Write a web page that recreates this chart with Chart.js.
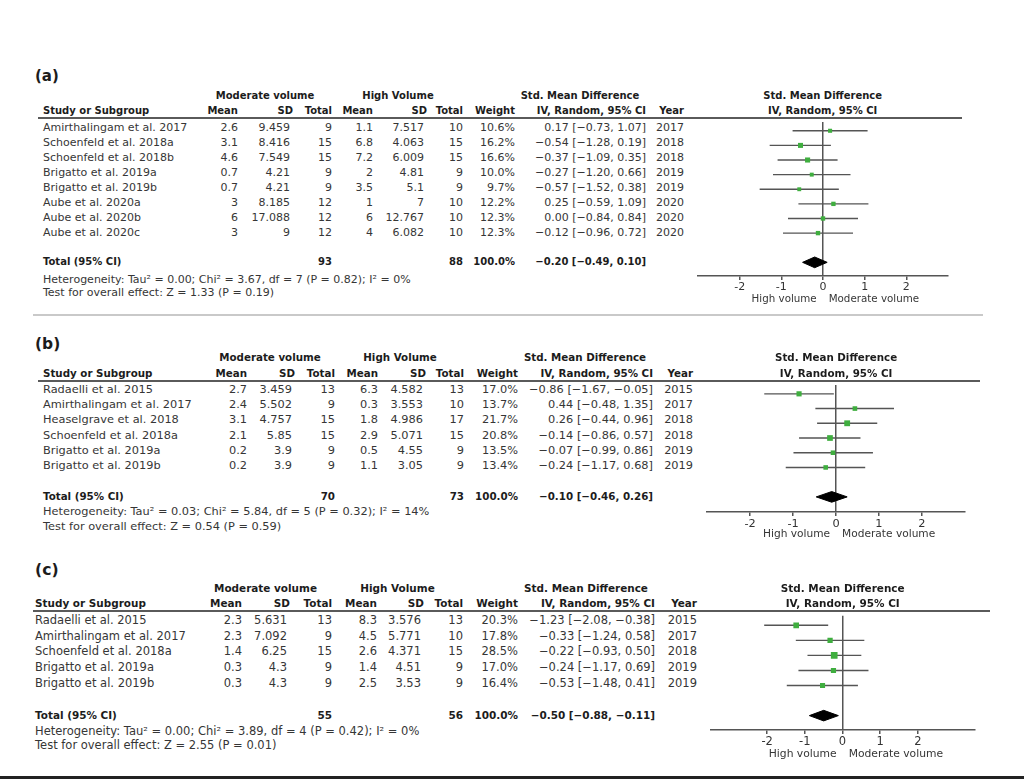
<!DOCTYPE html>
<html>
<head>
<meta charset="utf-8">
<script src="https://cdn.jsdelivr.net/npm/chart.js@4.4.1/dist/chart.umd.min.js"></script>
<style>
  body { margin: 0; background: #fff; }
  #page { position: relative; width: 1024px; height: 780px; overflow: hidden; font-family: "DejaVu Sans", sans-serif; color: #363636; }
  .t { position: absolute; white-space: nowrap; line-height: 1; }
  .b { font-weight: bold; color: #1c1c1c; }
  .rule { position: absolute; }
  canvas { position: absolute; }
</style>
</head>
<body>
<div id="page"></div>
<script>
    // ---- (a) ----
    const studiesA = ['Amirthalingam et al. 2017', 'Schoenfeld et al. 2018a', 'Schoenfeld et al. 2018b', 'Brigatto et al. 2019a', 'Brigatto et al. 2019b', 'Aube et al. 2020a', 'Aube et al. 2020b', 'Aube et al. 2020c'];
    const modMeanA = [2.6, 3.1, 4.6, 0.7, 0.7, 3, 6, 3];
    const modSdA = [9.459, 8.416, 7.549, 4.21, 4.21, 8.185, 17.088, 9];
    const modNA = [9, 15, 15, 9, 9, 12, 12, 12];
    const highMeanA = [1.1, 6.8, 7.2, 2, 3.5, 1, 6, 4];
    const highSdA = [7.517, 4.063, 6.009, 4.81, 5.1, 7, 12.767, 6.082];
    const highNA = [10, 15, 15, 9, 9, 10, 10, 10];
    const weightA = [10.6, 16.2, 16.6, 10.0, 9.7, 12.2, 12.3, 12.3];
    const smdA = [0.17, -0.54, -0.37, -0.27, -0.57, 0.25, 0.00, -0.12];
    const loA = [-0.73, -1.28, -1.09, -1.20, -1.52, -0.59, -0.84, -0.96];
    const hiA = [1.07, 0.19, 0.35, 0.66, 0.38, 1.09, 0.84, 0.72];
    const yearA = [2017, 2018, 2018, 2019, 2019, 2020, 2020, 2020];
    const totalNA = [93, 88];
    const totalA = [-0.20, -0.49, 0.10];
    const hetA = 'Heterogeneity: Tau² = 0.00; Chi² = 3.67, df = 7 (P = 0.82); I² = 0%';
    const testA = 'Test for overall effect: Z = 1.33 (P = 0.19)';

    // ---- (b) ----
    const studiesB = ['Radaelli et al. 2015', 'Amirthalingam et al. 2017', 'Heaselgrave et al. 2018', 'Schoenfeld et al. 2018a', 'Brigatto et al. 2019a', 'Brigatto et al. 2019b'];
    const modMeanB = [2.7, 2.4, 3.1, 2.1, 0.2, 0.2];
    const modSdB = [3.459, 5.502, 4.757, 5.85, 3.9, 3.9];
    const modNB = [13, 9, 15, 15, 9, 9];
    const highMeanB = [6.3, 0.3, 1.8, 2.9, 0.5, 1.1];
    const highSdB = [4.582, 3.553, 4.986, 5.071, 4.55, 3.05];
    const highNB = [13, 10, 17, 15, 9, 9];
    const weightB = [17.0, 13.7, 21.7, 20.8, 13.5, 13.4];
    const smdB = [-0.86, 0.44, 0.26, -0.14, -0.07, -0.24];
    const loB = [-1.67, -0.48, -0.44, -0.86, -0.99, -1.17];
    const hiB = [-0.05, 1.35, 0.96, 0.57, 0.86, 0.68];
    const yearB = [2015, 2017, 2018, 2018, 2019, 2019];
    const totalNB = [70, 73];
    const totalB = [-0.10, -0.46, 0.26];
    const hetB = 'Heterogeneity: Tau² = 0.03; Chi² = 5.84, df = 5 (P = 0.32); I² = 14%';
    const testB = 'Test for overall effect: Z = 0.54 (P = 0.59)';

    // ---- (c) ----
    const studiesC = ['Radaelli et al. 2015', 'Amirthalingam et al. 2017', 'Schoenfeld et al. 2018a', 'Brigatto et al. 2019a', 'Brigatto et al. 2019b'];
    const modMeanC = [2.3, 2.3, 1.4, 0.3, 0.3];
    const modSdC = [5.631, 7.092, 6.25, 4.3, 4.3];
    const modNC = [13, 9, 15, 9, 9];
    const highMeanC = [8.3, 4.5, 2.6, 1.4, 2.5];
    const highSdC = [3.576, 5.771, 4.371, 4.51, 3.53];
    const highNC = [13, 10, 15, 9, 9];
    const weightC = [20.3, 17.8, 28.5, 17.0, 16.4];
    const smdC = [-1.23, -0.33, -0.22, -0.24, -0.53];
    const loC = [-2.08, -1.24, -0.93, -1.17, -1.48];
    const hiC = [-0.38, 0.58, 0.50, 0.69, 0.41];
    const yearC = [2015, 2017, 2018, 2019, 2019];
    const totalNC = [55, 56];
    const totalC = [-0.50, -0.88, -0.11];
    const hetC = 'Heterogeneity: Tau² = 0.00; Chi² = 3.89, df = 4 (P = 0.42); I² = 0%';
    const testC = 'Test for overall effect: Z = 2.55 (P = 0.01)';

    const tickVals = [-2, -1, 0, 1, 2];

    // page layout of each panel (pixels)
    const layoutA = { label: '(a)', labelY: 76, h1: 96, h2: 111, rule: 118, ruleX: [38, 962], row0: 127, step: 15, totIdx: 9,
        het: 279, test: 292, axis: 276, titleY: 298, zero: 822.7, unit: 43, xr: [-3, 3], nameX: 43,
        cols: [238, 290, 332, 373, 424, 463, 515, 646, 684], mod: 265, high: 398, smd: 580, fs: 11 };
    const layoutB = { label: '(b)', labelY: 345, h1: 357, h2: 373, rule: 381, ruleX: [38, 980], row0: 390, step: 15.2, totIdx: 7,
        het: 512, test: 527, axis: 512, titleY: 534, zero: 836, unit: 44.3, xr: [-3, 3], nameX: 43,
        cols: [247, 292, 335, 378, 423, 464, 518, 653, 693], mod: 270, high: 400, smd: 585, fs: 11.35 };
    const layoutC = { label: '(c)', labelY: 570, h1: 588, h2: 603, rule: 611, ruleX: [33, 990], row0: 621, step: 15.67, totIdx: 6,
        het: 732, test: 746, axis: 730, titleY: 754, zero: 842.7, unit: 39, xr: [-3.5, 3.5], nameX: 35,
        cols: [242, 287, 332, 377, 421, 463, 518, 655, 697], mod: 265.5, high: 397.5, smd: 586, fs: 11.5 };

    const AXIS_H = 19;
    const DIAMOND_PX = 5.5;
    const GREEN = '#3fae3f', LINE = '#555';
    const page = document.getElementById('page');

    function txt(s, x, y, align, size, bold) {
        const el = document.createElement('div');
        el.className = 't' + (bold ? ' b' : '');
        el.textContent = s;
        el.style.left = x + 'px';
        el.style.top = y + 'px';
        el.style.fontSize = size + 'px';
        const tx = align === 'r' ? '-100%' : (align === 'c' ? '-50%' : '0');
        el.style.transform = `translate(${tx}, -50%)`;
        page.appendChild(el);
    }

    function rule(x, y, w, h, color) {
        const el = document.createElement('div');
        el.className = 'rule';
        el.style.cssText = `left:${x}px;top:${y}px;width:${w}px;height:${h}px;background:${color}`;
        page.appendChild(el);
    }

    const f2 = v => v.toFixed(2).replace('-', '−');
    const ciText = (s, l, h) => `${f2(s)} [${f2(l)}, ${f2(h)}]`;

    function drawPanel(p) {
        const L = p.lay, fs = L.fs, bs = fs * 10 / 11, c = L.cols;

        // table
        txt(L.label, 35, L.labelY, 'l', fs * 15 / 11, true);
        txt('Moderate volume', L.mod, L.h1, 'c', bs, true);
        txt('High Volume', L.high, L.h1, 'c', bs, true);
        txt('Std. Mean Difference', L.smd, L.h1, 'c', bs, true);
        txt('Study or Subgroup', L.nameX, L.h2, 'l', bs, true);
        ['Mean', 'SD', 'Total', 'Mean', 'SD', 'Total', 'Weight', 'IV, Random, 95% CI', 'Year'].forEach((h, k) => txt(h, c[k] + (k === 1 || k === 4 ? 3 : 0), L.h2, 'r', bs, true));
        rule(L.ruleX[0], L.rule - 1, L.ruleX[1] - L.ruleX[0], 1.5, '#5a5a5a');

        p.studies.forEach((s, i) => {
            const y = L.row0 + i * L.step;
            txt(s, L.nameX, y, 'l', fs);
            [p.modMean[i], p.modSd[i], p.modN[i], p.highMean[i], p.highSd[i], p.highN[i]].forEach((v, k) => txt(String(v), c[k], y, 'r', fs));
            txt(p.weight[i].toFixed(1) + '%', c[6], y, 'r', fs);
            txt(ciText(p.smd[i], p.lo[i], p.hi[i]), c[7], y, 'r', fs);
            txt(String(p.year[i]), c[8], y, 'r', fs);
        });

        const ty = L.row0 + L.totIdx * L.step;
        txt('Total (95% CI)', L.nameX, ty, 'l', bs, true);
        txt(String(p.totalN[0]), c[2], ty, 'r', bs, true);
        txt(String(p.totalN[1]), c[5], ty, 'r', bs, true);
        txt('100.0%', c[6], ty, 'r', bs, true);
        txt(ciText(p.total[0], p.total[1], p.total[2]), c[7], ty, 'r', bs, true);
        txt(p.het, L.nameX, L.het, 'l', fs);
        txt(p.test, L.nameX, L.test, 'l', fs);

        // forest plot
        const cv = document.createElement('canvas');
        const left = L.zero + L.xr[0] * L.unit, w = Math.round((L.xr[1] - L.xr[0]) * L.unit), h = Math.round(L.axis - L.rule + AXIS_H);
        cv.width = w; cv.height = h;
        cv.style.left = left + 'px'; cv.style.top = L.rule + 'px';
        cv.style.width = w + 'px'; cv.style.height = h + 'px';
        page.appendChild(cv);

        const ci = [];
        p.studies.forEach((_, i) => ci.push({ x: p.lo[i], y: i }, { x: p.hi[i], y: i }, { x: null, y: null }));
        const t = L.totIdx, dh = DIAMOND_PX / L.step, [ts, tl, th] = p.total;
        const diamond = [{ x: tl, y: t }, { x: ts, y: t - dh }, { x: th, y: t }, { x: ts, y: t + dh }, { x: tl, y: t }];

        const chart = new Chart(cv, {
            type: 'scatter',
            data: {
                datasets: [
                    { data: p.studies.map((_, i) => ({ x: p.smd[i], y: i })), pointStyle: 'rect',
                      pointRadius: ctx => Math.sqrt(p.weight[ctx.dataIndex]) * 1.25 / Math.SQRT2,
                      backgroundColor: GREEN, borderWidth: 0, order: 0 },
                    { type: 'line', data: ci, borderColor: LINE, borderWidth: 1.4, pointRadius: 0, spanGaps: false, order: 1 },
                    { type: 'line', data: diamond, borderColor: '#000', backgroundColor: '#000', borderWidth: 1, pointRadius: 0, fill: 'shape', tension: 0, order: 1 }
                ]
            },
            options: {
                responsive: false, animation: false, events: [],
                layout: { padding: 0 },
                plugins: { legend: { display: false }, tooltip: { enabled: false } },
                scales: {
                    x: {
                        type: 'linear', min: L.xr[0], max: L.xr[1],
                        afterBuildTicks: s => { s.ticks = tickVals.map(v => ({ value: v })); },
                        afterFit: s => { s.height = AXIS_H; },
                        grid: { color: ctx => (ctx.tick && ctx.tick.value === 0 ? LINE : 'rgba(0,0,0,0)'), tickColor: LINE, tickLength: 4, lineWidth: 1.5 },
                        border: { color: LINE, width: 1.5 },
                        ticks: { color: '#333', font: { family: 'DejaVu Sans', size: fs }, padding: 1, maxRotation: 0, autoSkip: false }
                    },
                    y: { type: 'linear', reverse: true, display: false,
                         min: (L.rule - L.row0) / L.step, max: (L.axis - L.row0) / L.step }
                }
            }
        });

        const zeroPx = left + chart.scales.x.getPixelForValue(0);
        txt('Std. Mean Difference', zeroPx, L.h1, 'c', bs, true);
        txt('IV, Random, 95% CI', zeroPx, L.h2, 'c', bs, true);
        txt('High volume', zeroPx - 6, L.titleY, 'r', fs * 10.3 / 11);
        txt('Moderate volume', zeroPx + 6, L.titleY, 'l', fs * 10.3 / 11);
    }

    window.onload = () => {
        drawPanel({ lay: layoutA, studies: studiesA, modMean: modMeanA, modSd: modSdA, modN: modNA, highMean: highMeanA, highSd: highSdA, highN: highNA,
                    weight: weightA, smd: smdA, lo: loA, hi: hiA, year: yearA, totalN: totalNA, total: totalA, het: hetA, test: testA });
        drawPanel({ lay: layoutB, studies: studiesB, modMean: modMeanB, modSd: modSdB, modN: modNB, highMean: highMeanB, highSd: highSdB, highN: highNB,
                    weight: weightB, smd: smdB, lo: loB, hi: hiB, year: yearB, totalN: totalNB, total: totalB, het: hetB, test: testB });
        drawPanel({ lay: layoutC, studies: studiesC, modMean: modMeanC, modSd: modSdC, modN: modNC, highMean: highMeanC, highSd: highSdC, highN: highNC,
                    weight: weightC, smd: smdC, lo: loC, hi: hiC, year: yearC, totalN: totalNC, total: totalC, het: hetC, test: testC });

        rule(33, 314, 950, 2, '#c9c9c9');
        rule(0, 776, 1024, 3, '#222');
    };
</script>
</body>
</html>
